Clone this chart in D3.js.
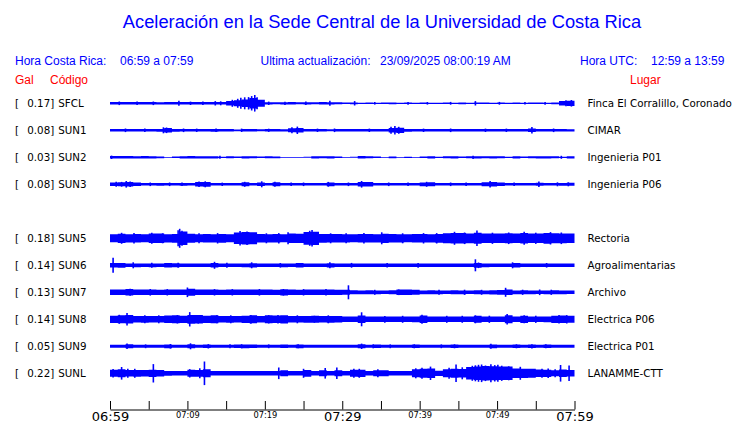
<!DOCTYPE html>
<html><head><meta charset="utf-8">
<script src="https://cdn.jsdelivr.net/npm/d3@7"></script>
<style>
html,body{margin:0;padding:0;background:#fff;}
svg{display:block;}
</style></head>
<body>
<svg id="chart" width="740" height="423"></svg>
<script>
// ---------- DATA ----------
const slots = ["SFCL","SUN1","SUN2","SUN3","SUN4","SUN5","SUN6","SUN7","SUN8","SUN9","SUNL"];
const stations = ["SFCL","SUN1","SUN2","SUN3","SUN5","SUN6","SUN7","SUN8","SUN9","SUNL"];
const galValues = ["0.17","0.08","0.03","0.08","0.18","0.14","0.13","0.14","0.05","0.22"];
const places = ["Finca El Corralillo, Coronado","CIMAR","Ingenieria P01","Ingenieria P06","Rectoria","Agroalimentarias","Archivo","Electrica P06","Electrica P01","LANAMME-CTT"];
const tickMinutes = [0,5,10,15,20,25,30,35,40,45,50,55,60];
const tickLabels = ["06:59","","07:09","","07:19","","07:29","","07:39","","07:49","","07:59"];
const majorLabels = ["06:59","07:29","07:59"];

// per-minute envelope (relative half-amplitude, 0-100)
const envSFCL = [12,13,12,12,13,12,11,12,12,13,12,12,13,12,13, 22,30,38,52,35, 11,10,11,12,10,11,10,12,11,10,
  7,9,6,8,6,7,9,6,7,6,8,6,6,7,6,9,6,8,7,6,8,6,7,6,8,7,6,9, 22,26];
const envSUN1 = [13,13,12,13,13,12,14,22,14,13,12,13,13,14,12,13,9,13,12,10,13,12,11,20,22,12,13,12,10,13,
  13,12,13,12,13,12,22,26,14,13,12,13,12,13,12,13,12,13,12,13,12,13,12,13,18,13,12,13,12,11];
const envSUN2 = [12,13,12,11,12,11,9,4,8,11,12,11,11,11,6,10,8,11,10,8,10,9,4,4,4,5,11,10,11,8,
  4,5,12,10,8,4,9,4,6,4,8,11,6,10,11,8,10,11,10,11,10,6,11,8,10,11,11,10,6,11];
const envSUN3 = [18,20,22,18,13,13,14,13,13,14,13,22,24,13,13,12,13,20,13,17,13,20,13,12,13,13,12,13,19,13,
  13,13,22,22,13,13,12,13,13,13,19,20,13,13,12,13,13,13,20,22,18,13,13,12,13,15,13,13,14,15];
const envSUN5 = [40,46,41,42,40,47,48,41,44,68,45,40,42,41,44,40,58,62,60,42,41,43,40,48,46,64,66,44,42,43,
  41,40,42,43,41,46,43,41,40,42,43,41,44,50,53,52,49,55,48,47,48,50,47,52,48,47,54,50,49,48];
const envSUN6 = [22,24,17,19,18,19,17,22,20,18,17,17,17,22,17,18,17,19,21,17,17,18,19,17,22,17,17,17,21,17,
  17,18,17,17,17,17,17,17,17,17,17,17,17,17,17,17,17,24,19,17,17,17,22,17,17,17,17,17,17,17];
const envSUN7 = [27,28,33,27,28,27,26,28,27,27,35,27,28,27,26,27,28,27,28,27,27,26,31,27,26,27,28,27,27,26,
  25,20,19,20,19,18,20,27,28,25,19,20,19,18,20,19,18,20,19,21,24,28,19,20,19,18,19,20,19,18];
const envSUN8 = [36,40,42,33,34,33,33,38,40,36,44,42,36,40,33,34,33,36,40,33,40,38,41,33,33,34,35,33,34,33,
  27,28,38,28,27,27,28,27,28,29,38,28,27,27,28,27,28,35,28,27,28,40,28,36,27,28,29,36,38,35];
const envSUN9 = [15,15,20,15,15,15,15,19,15,15,20,15,18,15,15,15,18,19,17,15,15,15,18,15,19,15,15,15,15,15,
  15,15,20,15,17,15,15,15,15,18,15,15,15,15,17,15,15,15,15,19,15,15,17,15,18,15,17,15,15,15];
const envSUNL = [35,40,33,34,32,36,33,24,22,22,35,34,40,22,22,22,22,22,22,22,22,23,30,22,22,34,22,30,22,30,
  22,35,36,22,30,30,22,22,22,40,45,48,26,40,45,42,62,68,72,70,68,68,48,46,45,38,36,30,38,33];

// isolated peaks: [minute, relative half-amplitude]
const peaksSFCL = [[1.2,18],[3.5,17],[5.6,18],[8.9,25],[10.4,17],[12.0,18],[13.6,22],[14.3,20],[15.8,35],[16.5,45],[16.9,55],[17.4,60],[17.9,62],[18.3,72],[18.7,83],[19.0,60],[20.5,17],[22.6,16],[25.3,17],[28.4,25],[31.6,22],[34.2,13],[38.5,14],[41.0,13],[44.0,14],[47.2,22],[50.3,14],[53.6,13],[56.2,14],[58.9,30],[59.6,33]];
const peaksSUN1 = [[2.0,18],[4.5,17],[6.9,30],[7.3,28],[9.5,18],[11.2,17],[13.7,18],[17.0,17],[20.5,16],[23.5,30],[24.2,37],[26.8,17],[29.0,18],[33.5,17],[36.3,35],[36.8,42],[37.3,35],[40.5,17],[44.0,18],[48.5,17],[51.2,17],[54.5,32],[57.3,18]];
const peaksSUN2 = [[0.2,17],[14.2,15],[46.9,16],[58.3,15]];
const peaksSUN3 = [[0.8,25],[1.5,24],[2.1,33],[2.6,28],[5.2,18],[7.7,18],[9.3,18],[11.5,28],[12.3,30],[14.5,17],[17.4,25],[19.6,30],[21.3,25],[23.4,18],[25.0,18],[28.2,24],[30.8,18],[32.5,33],[36.0,18],[38.5,18],[40.9,25],[44.0,18],[46.0,18],[49.1,33],[52.2,18],[55.4,27],[57.8,20],[59.2,20]];
const peaksSUN5 = [[1.5,55],[3.1,52],[5.4,55],[6.8,50],[8.8,80],[9.0,95],[9.3,75],[11.5,50],[13.9,52],[16.8,73],[17.7,68],[20.2,50],[21.8,52],[23.0,60],[25.8,75],[26.1,83],[28.5,50],[30.5,50],[32.8,52],[35.1,60],[37.8,50],[40.5,52],[42.2,52],[44.5,65],[45.8,58],[47.4,78],[49.4,56],[51.5,58],[53.5,65],[55.0,56],[56.9,62],[58.3,58]];
const peaksSUN6 = [[0.4,75],[3.0,30],[5.4,25],[8.8,25],[13.5,35],[15.1,25],[18.3,30],[22.0,23],[28.4,30],[31.2,24],[35.8,23],[39.8,24],[47.2,60],[47.6,28],[52.0,30],[56.4,23]];
const peaksSUN7 = [[2.6,35],[5.2,33],[7.4,32],[10.0,48],[13.5,32],[15.8,32],[19.3,33],[22.4,33],[25.0,32],[27.9,32],[30.8,70],[34.2,25],[37.3,28],[42.5,25],[45.8,26],[48.0,25],[51.1,45],[53.3,26],[55.5,28],[57.0,26]];
const peaksSUN8 = [[1.2,45],[2.2,63],[4.5,40],[6.3,40],[8.7,42],[10.3,72],[11.4,43],[13.8,40],[15.6,40],[18.2,44],[20.5,42],[21.7,43],[24.2,40],[26.4,35],[28.2,40],[32.5,70],[35.5,34],[37.8,35],[40.3,45],[43.5,35],[45.5,35],[47.2,40],[49.0,36],[51.3,53],[53.5,40],[55.0,36],[58.0,42],[59.0,42]];
const peaksSUN9 = [[2.2,28],[4.6,19],[7.8,23],[10.4,30],[12.7,22],[15.5,20],[17.0,21],[20.5,19],[24.3,20],[32.5,27],[34.0,20],[36.2,19],[39.3,20],[42.8,19],[44.5,20],[49.2,25],[52.5,20],[54.5,21],[56.3,20]];
const peaksSUNL = [[0.4,42],[1.5,63],[2.3,45],[3.2,45],[5.6,92],[10.3,42],[11.6,50],[12.2,118],[21.8,58],[25.0,45],[27.8,53],[29.3,58],[31.5,45],[32.2,45],[34.6,40],[39.5,50],[40.3,55],[41.4,67],[43.8,55],[44.7,87],[45.5,60],[46.8,75],[47.2,80],[47.6,85],[48.0,88],[48.5,78],[49.2,90],[49.7,82],[50.1,85],[50.6,76],[51.5,70],[53.0,65],[55.8,45],[56.6,48],[57.5,40],[58.2,83],[59.3,78]];

const envelopes = [envSFCL,envSUN1,envSUN2,envSUN3,envSUN5,envSUN6,envSUN7,envSUN8,envSUN9,envSUNL];
const peaks = [peaksSFCL,peaksSUN1,peaksSUN2,peaksSUN3,peaksSUN5,peaksSUN6,peaksSUN7,peaksSUN8,peaksSUN9,peaksSUNL];

// ---------- DRAW ----------
const svg = d3.select("#chart");
const BLUE = "#0000ff", RED = "#ff0000";
const SANS = "'Liberation Sans', Arial, sans-serif";
const DJ = "'DejaVu Sans', sans-serif";

const x = d3.scaleLinear().domain([0,60]).range([110,574.5]);
const row = d3.scalePoint().domain(slots).range([103.3,373.3]);
const amp = d3.scaleLinear().domain([0,100]).range([0,10]);

// title
svg.append("text").attr("x",382).attr("y",28).attr("text-anchor","middle")
  .attr("font-family",SANS).attr("font-size",18.3).attr("fill",BLUE)
  .text("Aceleración en la Sede Central de la Universidad de Costa Rica");

// header
const hdr = [
  [15,65,"Hora Costa Rica:",BLUE],[120,65,"06:59 a 07:59",BLUE],
  [260.5,65,"Ultima actualización:",BLUE],[380,65,"23/09/2025 08:00:19 AM",BLUE],
  [580,65,"Hora UTC:",BLUE],[651,65,"12:59 a 13:59",BLUE],
  [15,84,"Gal",RED],[50,84,"Código",RED],[630,84,"Lugar",RED]
];
svg.selectAll("text.hdr").data(hdr).join("text").attr("class","hdr")
  .attr("x",d=>d[0]).attr("y",d=>d[1]).attr("fill",d=>d[3])
  .attr("font-family",SANS).attr("font-size",12).text(d=>d[2]);

// traces
stations.forEach((code,i)=>{
  const cy = row(code);
  const env = envelopes[i];
  const pts = env.map((v,m)=>[m,v]);
  pts.push([env.length, env[env.length-1]]);
  const area = d3.area().curve(d3.curveStepAfter)
    .x(d=>x(d[0])).y0(d=>cy-amp(d[1])).y1(d=>cy+amp(d[1]));
  svg.append("path").attr("d",area(pts)).attr("fill",BLUE);
  svg.append("g").selectAll("line").data(peaks[i]).join("line")
    .attr("x1",d=>x(d[0])).attr("x2",d=>x(d[0]))
    .attr("y1",d=>cy-amp(d[1])).attr("y2",d=>cy+amp(d[1]))
    .attr("stroke",BLUE).attr("stroke-width",1.6);

  const g = svg.append("g").attr("font-family",DJ).attr("font-size",10.3).attr("fill","#000");
  g.append("text").attr("x",15).attr("y",cy+4).text("[");
  g.append("text").attr("x",27.3).attr("y",cy+4).text(galValues[i]+"]");
  g.append("text").attr("x",58.3).attr("y",cy+4).text(code);
  g.append("text").attr("x",587.5).attr("y",cy+4).text(places[i]);
});

// axis
const axis = d3.axisBottom(x).tickValues(tickMinutes)
  .tickSizeInner(-8.5).tickSizeOuter(0)
  .tickFormat((d,i)=>tickLabels[i]);
const ax = svg.append("g").attr("transform","translate(0,409.5)").call(axis);
ax.select(".domain").attr("stroke","#000");
ax.selectAll(".tick line").attr("stroke","#000");
ax.selectAll(".tick text")
  .attr("font-family",DJ).attr("fill","#000").attr("dy",null)
  .attr("font-size",d=>majorLabels.includes(tickLabels[tickMinutes.indexOf(d)])?13:8.3)
  .attr("y",d=>majorLabels.includes(tickLabels[tickMinutes.indexOf(d)])?11.5:8);
</script>
</body></html>
